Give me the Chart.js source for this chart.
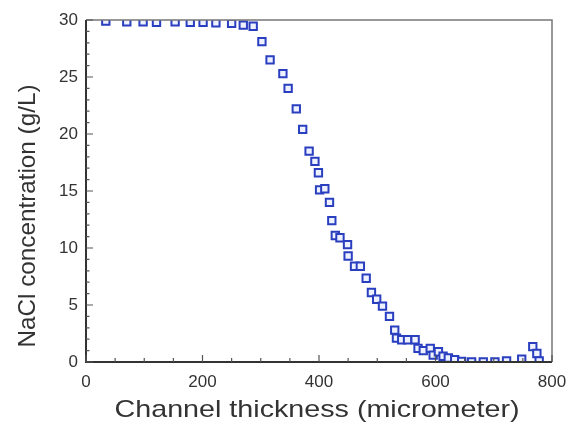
<!DOCTYPE html>
<html>
<head>
<meta charset="utf-8">
<script src="https://cdn.jsdelivr.net/npm/chart.js@4/dist/chart.umd.min.js"></script>
<style>
html,body{margin:0;padding:0;background:#fff;}
#wrap{width:570px;height:424px;}
</style>
</head>
<body>
<div id="wrap"><canvas id="c" width="570" height="424"></canvas></div>
<script>
// Data
const thickness = [34,70,98,121,153,179,201,223,250,270,287,302,316,338,347,361,372,383,393,399,401,410,418,422,428,436,449,450,461,471,481,490,499,509,521,530,533,542,552,565,570,579,591,596,605,613,622,633,645,662,682,702,722,748,767,774,778];
const concentration = [29.9,29.85,29.85,29.8,29.85,29.8,29.8,29.75,29.7,29.55,29.45,28.1,26.5,25.3,24.0,22.2,20.4,18.5,17.6,16.6,15.1,15.2,14.0,12.4,11.1,10.9,10.3,9.3,8.4,8.4,7.35,6.1,5.5,4.9,4.0,2.8,2.1,1.95,1.95,1.95,1.2,1.0,1.2,0.6,0.9,0.5,0.35,0.2,0.05,0,0,0,0.1,0.25,1.35,0.75,0.1];
const xTicks = [0,200,400,600,800];
const yTicks = [0,5,10,15,20,25,30];
const xTitle = 'Channel thickness (micrometer)';
const yTitle = 'NaCl concentration (g/L)';

const points = thickness.map((x,i)=>({x:x,y:concentration[i]}));
const FONT = 'Liberation Sans, Arial, sans-serif';

function fittedText(ctx, text, cx, cy, size, targetWidth, rot){
  ctx.save();
  ctx.font = size + 'px ' + FONT;
  const w = ctx.measureText(text).width;
  ctx.translate(cx, cy);
  if (rot) ctx.rotate(rot);
  ctx.scale(targetWidth / w, 1);
  ctx.textAlign = 'center';
  ctx.textBaseline = 'middle';
  ctx.fillStyle = '#333';
  ctx.fillText(text, 0, 0);
  ctx.restore();
}

const frameAndTicks = {
  id:'frameAndTicks',
  afterDatasetsDraw(chart){
    const ctx = chart.ctx, a = chart.chartArea;
    const xs = chart.scales.x, ys = chart.scales.y;
    ctx.save();
    ctx.strokeStyle = '#777';
    ctx.lineWidth = 1.5;
    ctx.beginPath();
    ctx.moveTo(a.left, a.top); ctx.lineTo(a.right, a.top); ctx.lineTo(a.right, a.bottom);
    ctx.stroke();
    ctx.strokeStyle = '#333';
    ctx.lineWidth = 2;
    ctx.beginPath();
    ctx.moveTo(a.left, a.top); ctx.lineTo(a.left, a.bottom); ctx.lineTo(a.right, a.bottom);
    ctx.stroke();
    ctx.strokeStyle = '#555';
    ctx.lineWidth = 1.2;
    ctx.beginPath();
    for (let v = xs.min; v <= xs.max; v += 50) {
      const p = xs.getPixelForValue(v);
      const len = (v % 200 === 0) ? 7 : 4;
      ctx.moveTo(p, a.bottom); ctx.lineTo(p, a.bottom - len);
    }
    for (let v = ys.min; v <= ys.max; v += 1) {
      const p = ys.getPixelForValue(v);
      const len = (v % 5 === 0) ? 7 : 3.5;
      ctx.moveTo(a.left, p); ctx.lineTo(a.left + len, p);
    }
    ctx.stroke();
    ctx.restore();
    fittedText(ctx, xTitle, 317, 410, 24, 405, 0);
    fittedText(ctx, yTitle, 28, 216, 24, 263, -Math.PI/2);
  }
};

new Chart(document.getElementById('c'), {
  type:'scatter',
  data:{datasets:[{
    data:points,
    pointStyle:'rect',
    pointRadius:5.2,
    pointBorderWidth:2,
    borderColor:'#2a3fc0',
    backgroundColor:'#eef1ff',
    pointHoverRadius:5.2
  }]},
  options:{
    responsive:false,
    animation:false,
    events:[],
    layout:{padding:{left:0,right:18,top:20,bottom:0}},
    plugins:{legend:{display:false},tooltip:{enabled:false}},
    scales:{
      x:{
        type:'linear', min:0, max:800,
        afterBuildTicks(s){ s.ticks = xTicks.map(v=>({value:v})); },
        afterFit(s){ s.height = 62; s.paddingLeft = 0; s.paddingRight = 0; },
        grid:{display:false, drawTicks:false},
        border:{display:false},
        ticks:{color:'#333', font:{family:FONT, size:17}, padding:10, maxRotation:0}
      },
      y:{
        type:'linear', min:0, max:30,
        afterBuildTicks(s){ s.ticks = yTicks.map(v=>({value:v})); },
        afterFit(s){ s.width = 86; s.paddingTop = 0; s.paddingBottom = 0; },
        grid:{display:false, drawTicks:false},
        border:{display:false},
        ticks:{color:'#333', font:{family:FONT, size:17}, padding:8}
      }
    }
  },
  plugins:[frameAndTicks]
});
</script>
</body>
</html>
